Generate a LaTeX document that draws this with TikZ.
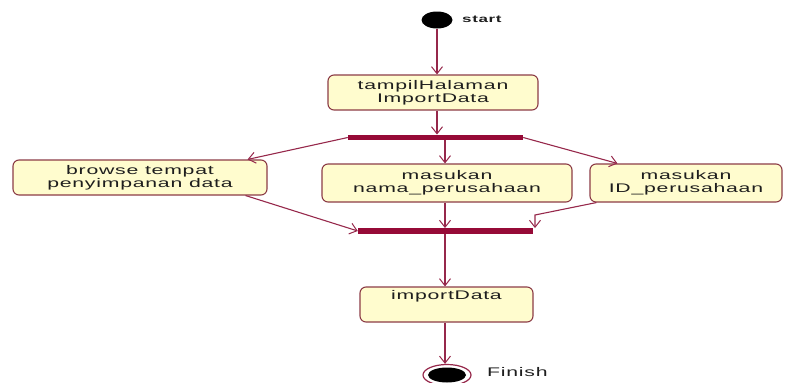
\documentclass[tikz,border=0pt]{standalone}
\usepackage{fontspec}
\newfontfamily\umlfont[FakeStretch=1.7,LetterSpace=6]{Liberation Sans}
\usetikzlibrary{arrows.meta,calc,shapes.geometric}

\definecolor{umlline}{RGB}{150,40,75}
\definecolor{umlbar}{RGB}{150,10,55}
\definecolor{umlborder}{RGB}{140,60,70}
\definecolor{umlfill}{RGB}{255,252,206}
\definecolor{umltext}{RGB}{30,30,30}

\tikzset{
  actbox/.style={draw=umlborder, fill=umlfill, line width=1.1pt,
    rounded corners=6pt, inner sep=0pt, align=center, text=umltext,
    font=\umlfont\fontsize{12.5}{13}\selectfont},
  syncbar/.style={fill=umlbar, draw=none, minimum height=5.5pt, inner sep=0pt},
  flow/.style={draw=umlline, line width=1.1pt,
    -{Straight Barb[length=7pt,width=11pt,line width=1pt]}},
  tag/.style={font=\umlfont\fontsize{12.5}{13}\selectfont, anchor=west, inner sep=0pt, text=umltext}
}

\begin{document}
\begin{tikzpicture}[x=1pt,y=-1pt]
  \useasboundingbox (0,0) rectangle (796,383);

  % initial and final states
  \node[ellipse, fill=black, minimum width=31pt, minimum height=17pt, inner sep=0pt] (start) at (437,20) {};
  \node[tag, font=\bfseries\umlfont\fontsize{10}{12}\selectfont] (startlbl) at (462,19) {start};

  \node[ellipse, draw=umlline, line width=1.2pt, minimum width=48pt, minimum height=21pt, inner sep=0pt] (finish) at (447,375) {};
  \node[ellipse, fill=black, minimum width=38pt, minimum height=15pt, inner sep=0pt] (finishdot) at (447,375) {};
  \node[tag] (finishlbl) at (487,372) {Finish};

  % activities
  \node[actbox, minimum width=210pt, minimum height=35pt] (tampil) at (433,92.5) {tampilHalaman\\ImportData};
  \node[actbox, minimum width=254pt, minimum height=35pt] (browse) at (140,177.5) {browse tempat\\penyimpanan data};
  \node[actbox, minimum width=250pt, minimum height=38pt] (nama) at (447,183) {masukan\\nama\_perusahaan};
  \node[actbox, minimum width=192pt, minimum height=38pt] (idp) at (686,183) {masukan\\ID\_perusahaan};
  \node[actbox, minimum width=173pt, minimum height=35pt,
        label={[actbox, draw=none, fill=none, anchor=north, yshift=-3pt]north:importData}] (imp) at (446.5,304.5) {};

  % fork and join bars
  \node[syncbar, minimum width=175pt] (fork) at (435.5,137.5) {};
  \node[syncbar, minimum width=175pt] (join) at (445.5,231) {};

  % control flow
  \draw[flow] (start.south) -- (start.south |- tampil.north);
  \draw[flow] (tampil.south -| start.south) -- (fork.north -| start.south);
  \draw[flow] (fork.west) -- ($(browse.north east)+(-20,0)$);
  \draw[flow] (fork.south -| 445,0) -- (nama.north -| 445,0);
  \draw[flow] (fork.east) -- ($(idp.north west)+(28,0)$);
  \draw[flow] ($(browse.south east)+(-22,0)$) -- (join.west);
  \draw[flow] (nama.south -| 445,0) -- (join.north -| 445,0);
  \coordinate (bend) at (535,215);
  \draw[flow] ($(idp.south west)+(7,0)$) -- (bend) -- (bend |- join.north);
  \draw[flow] (join.south -| 445,0) -- (imp.north -| 445,0);
  \draw[flow] (imp.south -| 445,0) -- (finish.north -| 445,0);
\end{tikzpicture}
\end{document}
